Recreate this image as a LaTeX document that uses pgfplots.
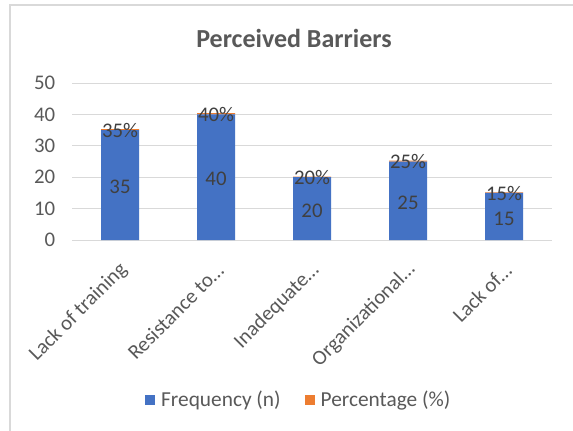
\documentclass[border=0pt]{standalone}
\usepackage{pgfplots}
\pgfplotsset{compat=1.18}
\usepackage{fontspec}
\setmainfont{Carlito}

\definecolor{barblue}{HTML}{4472C4}
\definecolor{barorange}{HTML}{ED7D31}
\definecolor{txtgrey}{HTML}{595959}
\definecolor{lblgrey}{HTML}{404040}
\definecolor{gridgrey}{HTML}{D9D9D9}

\begin{document}
\begin{tikzpicture}[x=0.75pt,y=0.75pt]
\useasboundingbox (0,0) rectangle (573,430);
\fill[white] (0,0) rectangle (573,430);
% chart frame
\draw[gridgrey, line width=0.9pt] (10,-5) -- (10,425) -- (580,425);

\begin{axis}[
    at={(54pt,142.5pt)}, anchor=south west,
    scale only axis,
    width=360pt, height=117.75pt,
    ybar stacked,
    bar width=28.5pt,
    xmin=-0.5, xmax=4.5,
    ymin=0, ymax=50,
    ytick={0,10,...,50},
    xtick={0,1,2,3,4},
    xticklabels={Lack of training, Resistance to\ldots, Inadequate\ldots, Organizational\ldots, Lack of\ldots},
    ymajorgrids,
    grid style={gridgrey, line width=0.75pt},
    axis line style={draw=none},
    axis x line*=bottom,
    x axis line style={draw=gridgrey, line width=0.75pt},
    axis y line*=left,
    y axis line style={draw=none},
    major tick length=0pt,
    tick style={draw=none},
    clip=false,
    font=\fontsize{15.6}{18}\selectfont,
    tick label style={text=txtgrey},
    yticklabel style={xshift=-9pt},
    xticklabel style={rotate=45, anchor=east, inner sep=0pt, xshift=-12pt, yshift=-16.4pt},
    /pgf/number format/assume math mode=true,
    legend style={at={(0.473,-1.019)}, anchor=center, draw=none, fill=none,
        legend columns=2, font=\fontsize{16}{18}\selectfont, text=txtgrey,
        /tikz/every odd column/.append style={column sep=2.5pt},
        /tikz/every even column/.append style={column sep=16pt}},
    legend image code/.code={\fill[#1] (0pt,-3.6pt) rectangle (7.5pt,3.9pt);},
]
\addplot[fill=barblue, draw=none,
    point meta=explicit symbolic,
    nodes near coords,
    every node near coord/.append style={anchor=center, text=lblgrey,
        font=\fontsize{15.6}{18}\selectfont, yshift=-1.5pt}]
    coordinates {(0,35) [35] (1,40) [40] (2,20) [20] (3,25) [25] (4,15) [15]};
\addlegendentry{Frequency (n)}
\addplot[fill=barorange, draw=none,
    point meta=explicit symbolic,
    nodes near coords,
    every node near coord/.append style={anchor=center, text=lblgrey,
        font=\fontsize{15.6}{18}\selectfont, yshift=-0.5pt}]
    coordinates {(0,0.35) [35\%] (1,0.40) [40\%] (2,0.20) [20\%] (3,0.25) [25\%] (4,0.15) [15\%]};
\addlegendentry{Percentage (\%)}
\end{axis}

\node[font=\bfseries\fontsize{19.5}{22}\selectfont, text=txtgrey] at (294,392) {Perceived Barriers};
\end{tikzpicture}
\end{document}
